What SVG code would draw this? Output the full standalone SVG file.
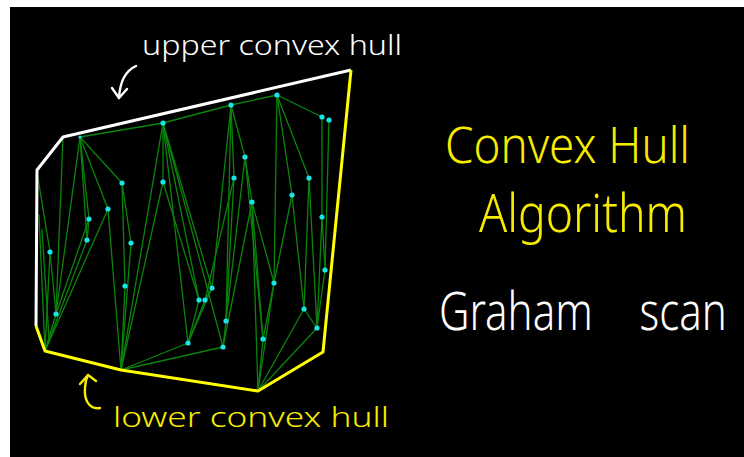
<svg xmlns="http://www.w3.org/2000/svg" width="744" height="457" viewBox="0 0 744 457">
<style>
.conn line{stroke:#0b840b;stroke-width:1.3;stroke-linecap:round}
.pt{fill:#18e6e6}
.hw{font-family:"Noto Sans","DejaVu Sans",sans-serif;font-weight:300}
.white{fill:#ffffff}
.yel{fill:#f7ec00}
.arrow{fill:none;stroke-width:2.4;stroke-linecap:round;stroke-linejoin:round}
</style>
<rect x="0" y="0" width="744" height="457" fill="#ffffff"/>
<rect x="10" y="7" width="734" height="450" fill="#000000"/>

<g id="connectors" class="conn">
<line x1="80" y1="137" x2="163" y2="123"/>
<line x1="163" y1="123" x2="231" y2="105"/>
<line x1="231" y1="105" x2="277" y2="95"/>
<line x1="277" y1="95" x2="322" y2="117"/>
<line x1="80" y1="137" x2="122" y2="183"/>
<line x1="80" y1="137" x2="108" y2="209"/>
<line x1="80" y1="137" x2="89" y2="219"/>
<line x1="80" y1="137" x2="87" y2="240"/>
<line x1="80" y1="137" x2="56" y2="314"/>
<line x1="63" y1="137" x2="56" y2="314"/>
<line x1="38" y1="178" x2="50" y2="252"/>
<line x1="50" y1="252" x2="45" y2="351"/>
<line x1="50" y1="252" x2="56" y2="314"/>
<line x1="56" y1="314" x2="45" y2="351"/>
<line x1="39" y1="215" x2="45" y2="351"/>
<line x1="42" y1="230" x2="49" y2="338"/>
<line x1="108" y1="209" x2="45" y2="351"/>
<line x1="87" y1="240" x2="45" y2="351"/>
<line x1="89" y1="219" x2="56" y2="314"/>
<line x1="108" y1="209" x2="121" y2="370"/>
<line x1="89" y1="219" x2="87" y2="240"/>
<line x1="122" y1="183" x2="125" y2="286"/>
<line x1="122" y1="183" x2="131" y2="243"/>
<line x1="131" y1="243" x2="121" y2="370"/>
<line x1="125" y1="286" x2="121" y2="370"/>
<line x1="163" y1="123" x2="163" y2="182"/>
<line x1="163" y1="123" x2="121" y2="370"/>
<line x1="163" y1="182" x2="121" y2="370"/>
<line x1="163" y1="123" x2="188" y2="343"/>
<line x1="163" y1="123" x2="212" y2="288"/>
<line x1="163" y1="123" x2="199" y2="300"/>
<line x1="163" y1="123" x2="223" y2="347"/>
<line x1="163" y1="182" x2="199" y2="300"/>
<line x1="212" y1="288" x2="188" y2="343"/>
<line x1="199" y1="300" x2="188" y2="343"/>
<line x1="205" y1="300" x2="188" y2="343"/>
<line x1="212" y1="288" x2="205" y2="300"/>
<line x1="188" y1="343" x2="121" y2="370"/>
<line x1="223" y1="347" x2="121" y2="370"/>
<line x1="231" y1="105" x2="234" y2="178"/>
<line x1="234" y1="178" x2="226" y2="321"/>
<line x1="231" y1="105" x2="226" y2="321"/>
<line x1="231" y1="105" x2="212" y2="288"/>
<line x1="231" y1="105" x2="245" y2="157"/>
<line x1="245" y1="157" x2="252" y2="202"/>
<line x1="245" y1="157" x2="226" y2="321"/>
<line x1="245" y1="157" x2="263" y2="339"/>
<line x1="226" y1="321" x2="223" y2="347"/>
<line x1="234" y1="178" x2="205" y2="300"/>
<line x1="252" y1="202" x2="274" y2="283"/>
<line x1="252" y1="202" x2="223" y2="347"/>
<line x1="252" y1="202" x2="258" y2="391"/>
<line x1="252" y1="202" x2="263" y2="339"/>
<line x1="277" y1="95" x2="274" y2="283"/>
<line x1="277" y1="95" x2="292" y2="195"/>
<line x1="277" y1="95" x2="309" y2="178"/>
<line x1="292" y1="195" x2="274" y2="283"/>
<line x1="292" y1="195" x2="304" y2="309"/>
<line x1="274" y1="283" x2="263" y2="339"/>
<line x1="309" y1="178" x2="304" y2="309"/>
<line x1="309" y1="178" x2="317" y2="328"/>
<line x1="322" y1="117" x2="322" y2="217"/>
<line x1="322" y1="217" x2="317" y2="328"/>
<line x1="322" y1="217" x2="325" y2="270"/>
<line x1="329" y1="120" x2="325" y2="270"/>
<line x1="325" y1="270" x2="317" y2="328"/>
<line x1="304" y1="309" x2="317" y2="328"/>
<line x1="274" y1="283" x2="258" y2="391"/>
<line x1="263" y1="339" x2="258" y2="391"/>
<line x1="304" y1="309" x2="258" y2="391"/>
<line x1="317" y1="328" x2="258" y2="391"/>
</g>

<g id="hull">
<polyline points="36,326 37,170 63,137 351,70" fill="none" stroke="#ffffff" stroke-width="3" stroke-linejoin="round"/>
<polyline points="351,70 323,352 258,391 121,370 45,351 36,326" fill="none" stroke="#ffff00" stroke-width="3" stroke-linejoin="round"/>
</g>

<g id="points">
<circle class="pt" cx="80" cy="137" r="1.6"/>
<circle class="pt" cx="163" cy="123" r="2.6"/>
<circle class="pt" cx="231" cy="105" r="2.6"/>
<circle class="pt" cx="277" cy="95" r="2.6"/>
<circle class="pt" cx="322" cy="117" r="2.6"/>
<circle class="pt" cx="329" cy="120" r="2.6"/>
<circle class="pt" cx="245" cy="157" r="2.6"/>
<circle class="pt" cx="122" cy="183" r="2.6"/>
<circle class="pt" cx="163" cy="182" r="2.6"/>
<circle class="pt" cx="234" cy="178" r="2.6"/>
<circle class="pt" cx="309" cy="178" r="2.6"/>
<circle class="pt" cx="292" cy="195" r="2.6"/>
<circle class="pt" cx="252" cy="202" r="2.6"/>
<circle class="pt" cx="108" cy="209" r="2.6"/>
<circle class="pt" cx="89" cy="219" r="2.6"/>
<circle class="pt" cx="322" cy="217" r="2.6"/>
<circle class="pt" cx="87" cy="240" r="2.6"/>
<circle class="pt" cx="131" cy="243" r="2.6"/>
<circle class="pt" cx="50" cy="252" r="2.6"/>
<circle class="pt" cx="125" cy="286" r="2.6"/>
<circle class="pt" cx="325" cy="270" r="2.6"/>
<circle class="pt" cx="274" cy="283" r="2.6"/>
<circle class="pt" cx="212" cy="288" r="2.6"/>
<circle class="pt" cx="199" cy="300" r="2.6"/>
<circle class="pt" cx="205" cy="300" r="2.6"/>
<circle class="pt" cx="304" cy="309" r="2.6"/>
<circle class="pt" cx="226" cy="321" r="2.6"/>
<circle class="pt" cx="56" cy="314" r="2.6"/>
<circle class="pt" cx="317" cy="328" r="2.6"/>
<circle class="pt" cx="263" cy="339" r="2.6"/>
<circle class="pt" cx="188" cy="343" r="2.6"/>
<circle class="pt" cx="223" cy="347" r="2.6"/>
</g>

<g id="upper-label">
<text class="hw white" x="142" y="55" font-size="28" textLength="260" lengthAdjust="spacingAndGlyphs">upper convex hull</text>
<path class="arrow" stroke="#ffffff" d="M136,66 C127,70 120,80 119,98"/>
<path class="arrow" stroke="#ffffff" d="M112,88 L119,98 L127,89"/>
</g>

<g id="lower-label">
<text class="hw yel" x="113" y="427" font-size="28" textLength="276" lengthAdjust="spacingAndGlyphs">lower convex hull</text>
<path class="arrow" stroke="#f7ec00" d="M100,408 C88,410 84,398 85,388 C85,383 86,379 88,375"/>
<path class="arrow" stroke="#f7ec00" d="M80,384 L88,375 L96,381"/>
</g>

<g id="title">
<text class="hw yel" x="445" y="163" font-size="50" textLength="245" lengthAdjust="spacingAndGlyphs">Convex Hull</text>
<text class="hw yel" x="479" y="232" font-size="54" textLength="208" lengthAdjust="spacingAndGlyphs">Algorithm</text>
</g>

<g id="subtitle">
<text class="hw white" x="0" y="0" font-size="42" word-spacing="36" transform="translate(439,330) scale(1,1.25)">Graham scan</text>
</g>
</svg>
